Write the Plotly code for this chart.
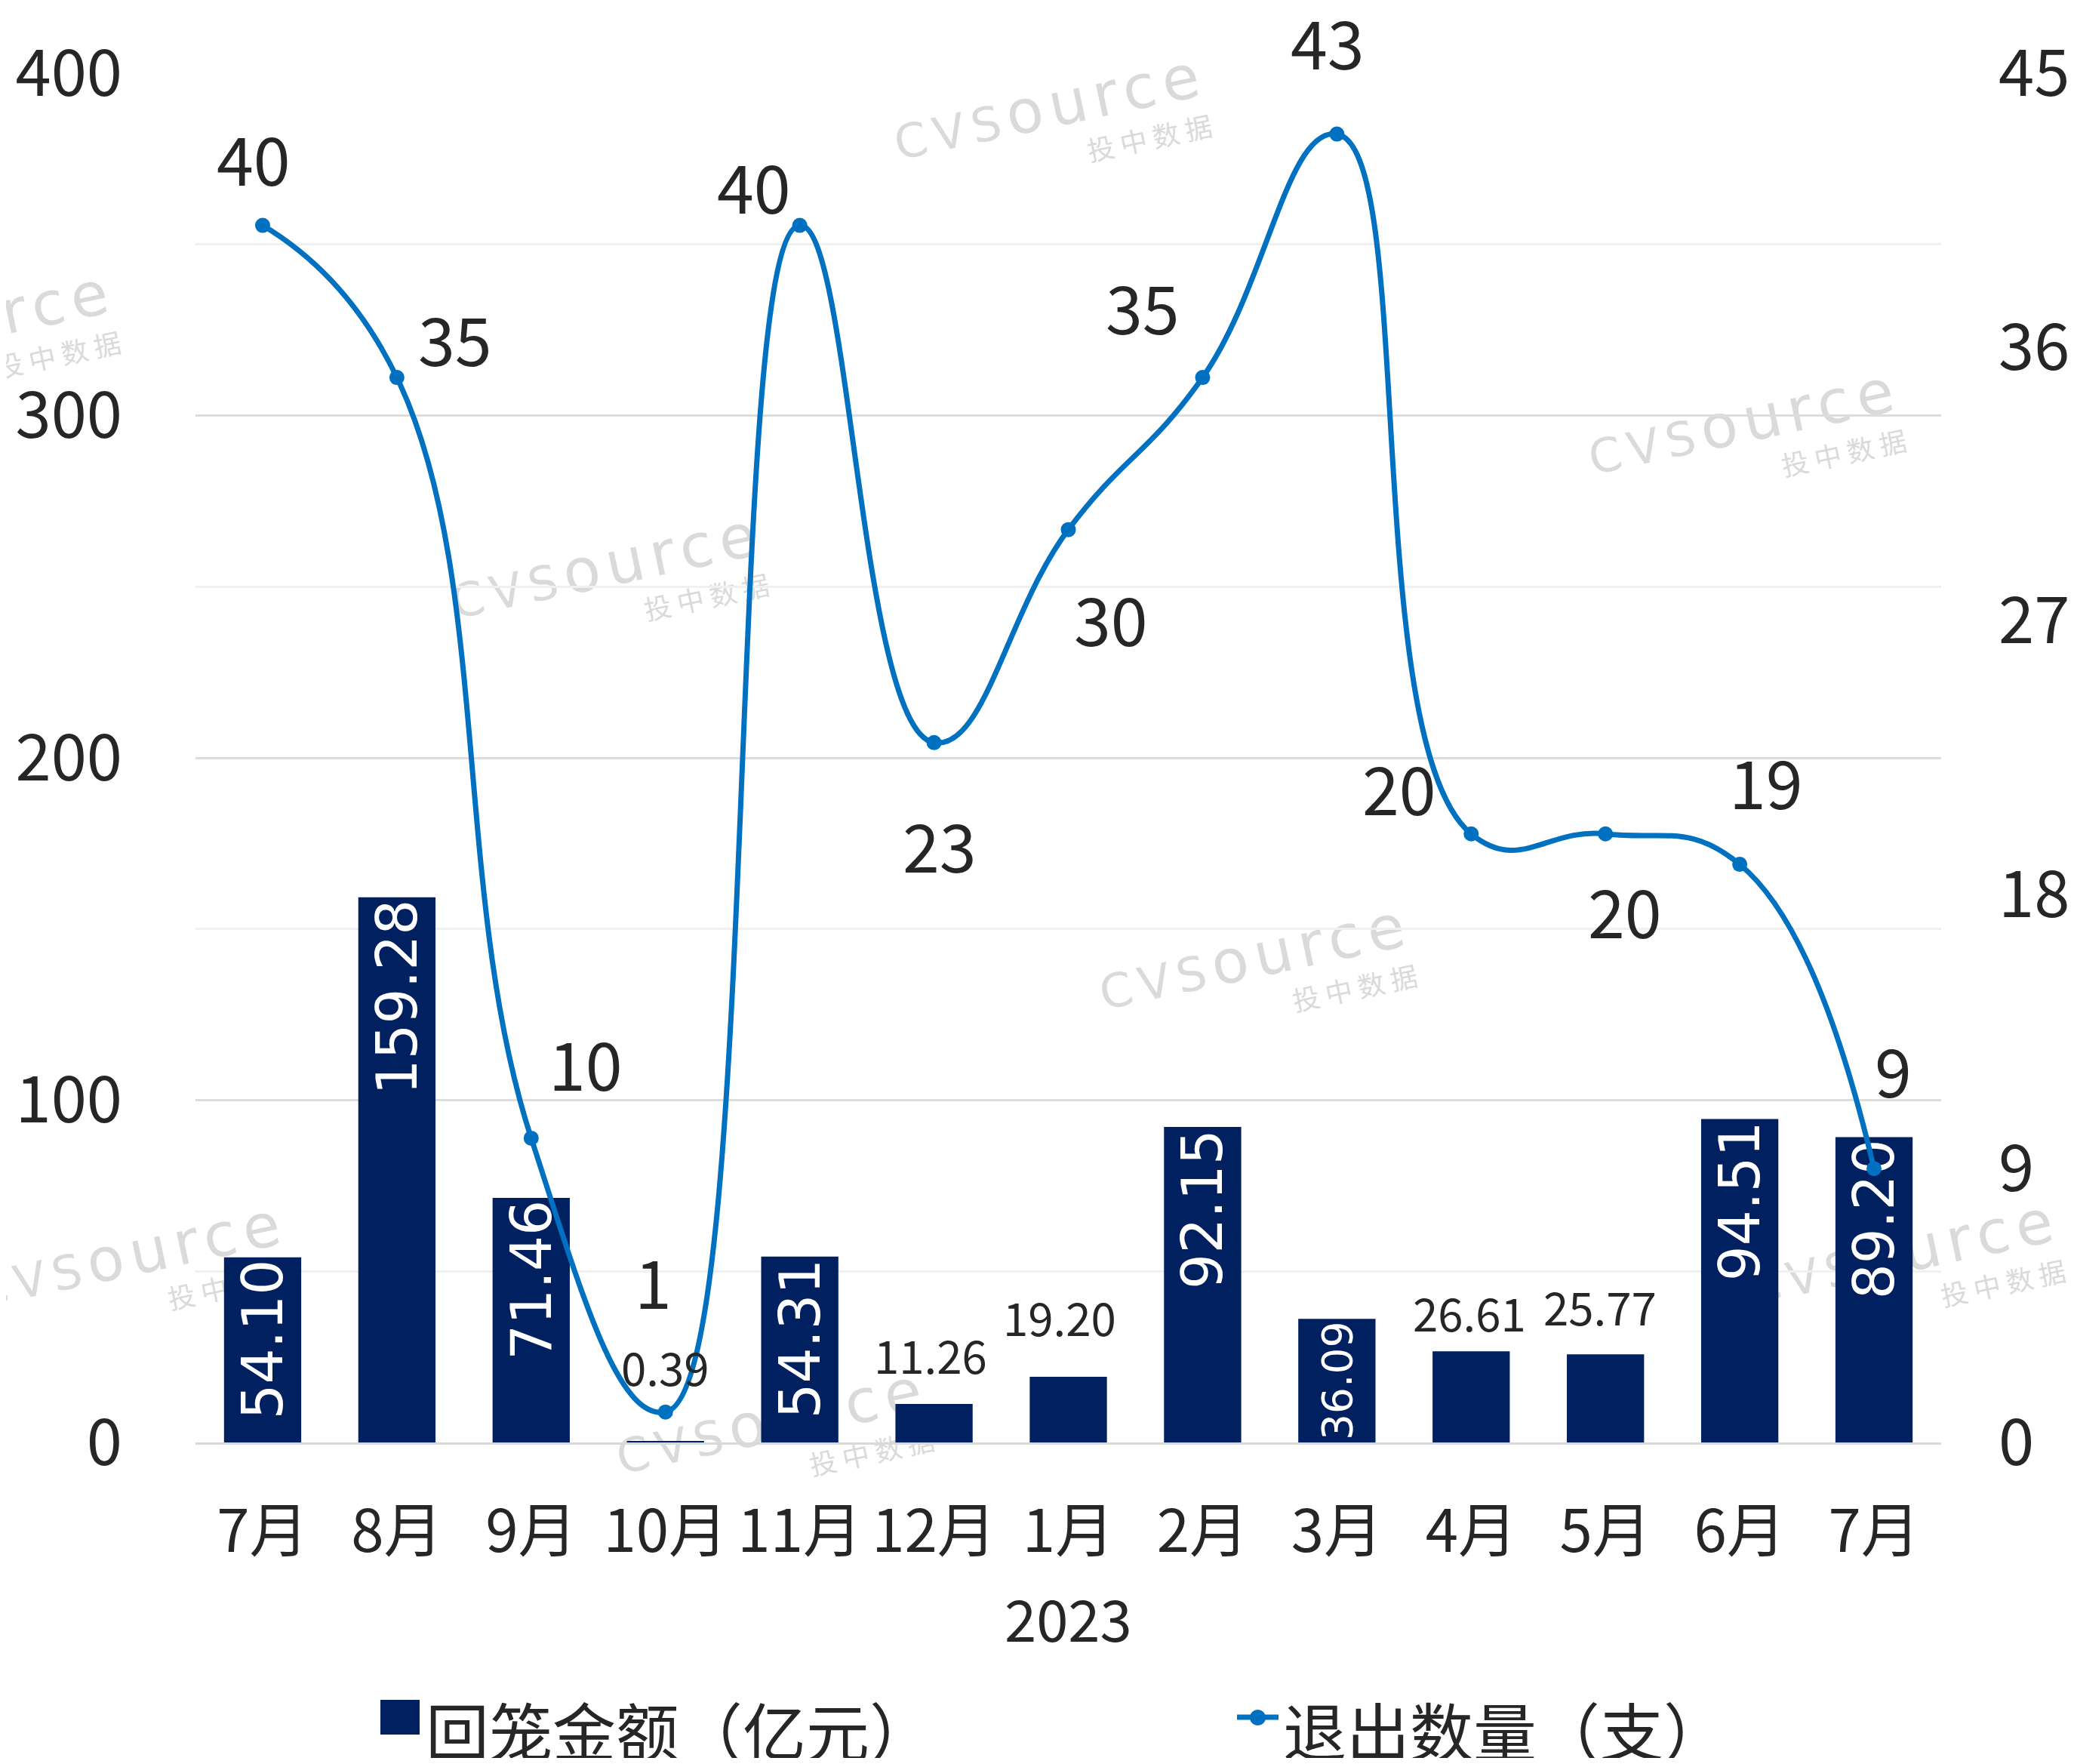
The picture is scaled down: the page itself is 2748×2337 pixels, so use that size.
import plotly.graph_objects as go

# ---------------- data ----------------
months = ["7月", "8月", "9月", "10月", "11月", "12月", "1月", "2月", "3月", "4月", "5月", "6月", "7月"]
year_label = "2023"
year_start_index = 6
amount = [54.10, 159.28, 71.46, 0.39, 54.31, 11.26, 19.20, 92.15, 36.09, 26.61, 25.77, 94.51, 89.20]
exits = [40, 35, 10, 1, 40, 23, 30, 35, 43, 20, 20, 19, 9]
left_ticks = [0, 100, 200, 300, 400]
right_ticks = [0, 9, 18, 27, 36, 45]
bar_name = "回笼金额（亿元）"
line_name = "退出数量（支）"
watermark_main = ("CVS", "ource")
watermark_sub = "投 中 数 据"

# ---------------- style / layout ----------------
OFF = 8                      # page body margin of the html output
W, H = 2732, 2321
ML, MR, MT, MB = 251, 168, 89, 418
PW, PH = W - ML - MR, H - MT - MB
FONT = "Noto Sans CJK SC, Noto Sans, sans-serif"
TEXT = "#262626"
BAR = "#002060"
LINE = "#0070C0"
WM = "#DADADA"
inside_threshold = 30


def px_x(sx):
    return (sx - OFF - ML) / PW


def px_y(sy):
    return (H - MB - (sy - OFF)) / PH


# label offsets (px) for the line's data labels: (xshift, yshift)
exit_label_shift = [(-12, 91), (77, 54), (72, 101), (-16, 175), (-61, 54), (7, -134), (56, -116),
                    (-79, 96), (-12, 124), (-95, 63), (26, -100), (35, 112), (25, 133)]
# extra lift (px) of the labels written above the short bars, in order of appearance
short_bar_label_lift = [(0, 42), (-5, 9), (-12, 23), (-2, -5), (-7, 7)]
# watermark "CVSource" centres in screen pixels; the sub text sits at a fixed offset
watermarks_px = [(1393, 153), (-53, 440), (806, 761), (2313, 570),
                 (1665, 1279), (2524, 1670), (175, 1674), (1025, 1894)]
wm_sub_offset = (131, 34)
wm_angle = -12

x = list(range(len(months)))
inside_text = [f"{v:.2f}" if v >= inside_threshold else "" for v in amount]

fig = go.Figure()
fig.add_trace(go.Bar(
    x=x, y=amount, name=bar_name, width=0.575, showlegend=False,
    marker=dict(color=BAR, line=dict(width=0)),
    text=inside_text, textposition="inside", textangle=-90, insidetextanchor="end",
    insidetextfont=dict(family="DejaVu Sans, Verdana, sans-serif", size=74, color="white"),
    hoverinfo="x+y",
))
fig.add_trace(go.Scatter(
    x=x, y=exits, name=line_name, yaxis="y2", mode="lines+markers", showlegend=False,
    line=dict(color=LINE, width=7, shape="spline", smoothing=1.3),
    marker=dict(color=LINE, size=20),
))

annotations = []
# outside labels for the short bars
k = 0
for i, v in enumerate(amount):
    if v < inside_threshold:
        dx, dy = short_bar_label_lift[k]
        k += 1
        annotations.append(dict(
            x=x[i], y=v, xref="x", yref="y", text=f"{v:.2f}", showarrow=False,
            xanchor="center", yanchor="bottom", xshift=dx, yshift=12 + dy,
            font=dict(family=FONT, size=60, color=TEXT)))
# line labels
for i, v in enumerate(exits):
    dx, dy = exit_label_shift[i]
    annotations.append(dict(
        x=x[i], y=v, xref="x", yref="y2", text=str(v), showarrow=False,
        xanchor="center", yanchor="middle", xshift=dx, yshift=dy,
        font=dict(family=FONT, size=88, color=TEXT)))
# year label
annotations.append(dict(
    x=x[year_start_index], y=px_y(2142), xref="x", yref="paper", text=year_label,
    showarrow=False, xanchor="center", yanchor="middle",
    font=dict(family=FONT, size=76, color=TEXT)))
# legend (custom, to match the large legend keys)
annotations.append(dict(
    x=px_x(562), y=px_y(2290), xref="paper", yref="paper", text=bar_name, showarrow=False,
    xanchor="left", yanchor="middle", font=dict(family=FONT, size=84, color=TEXT)))
annotations.append(dict(
    x=px_x(1698), y=px_y(2290), xref="paper", yref="paper", text=line_name, showarrow=False,
    xanchor="left", yanchor="middle", font=dict(family=FONT, size=84, color=TEXT)))

shapes = [
    dict(type="rect", xref="paper", yref="paper", x0=px_x(504), x1=px_x(556),
         y0=px_y(2298), y1=px_y(2252), fillcolor=BAR, line=dict(width=0)),
    dict(type="line", xref="paper", yref="paper", x0=px_x(1639), x1=px_x(1694),
         y0=px_y(2275), y1=px_y(2275), line=dict(color=LINE, width=7)),
    dict(type="circle", xref="paper", yref="paper", x0=px_x(1656), x1=px_x(1677),
         y0=px_y(2286), y1=px_y(2265), fillcolor=LINE, line=dict(width=0)),
]

# watermarks: invisible shapes carrying rotated text labels, drawn below the data
main_txt = (f"<span style='font-size:62px;letter-spacing:9px'>{watermark_main[0]}</span>"
            f"<span style='font-size:80px;letter-spacing:9px'>{watermark_main[1]}</span>")
for (wx, wy) in watermarks_px:
    for (cx, cy, txt, fam, size) in [
        (wx, wy, main_txt, "DejaVu Sans, Lato, sans-serif", 62),
        (wx + wm_sub_offset[0], wy + wm_sub_offset[1], watermark_sub,
         "Noto Sans CJK SC, sans-serif", 36),
    ]:
        shapes.append(dict(
            type="rect", xref="paper", yref="paper", layer="below",
            x0=px_x(cx - 1), x1=px_x(cx + 1), y0=px_y(cy + 1), y1=px_y(cy - 1),
            fillcolor="rgba(0,0,0,0)", line=dict(width=0),
            label=dict(text=txt, textangle=wm_angle, textposition="middle center",
                       xanchor="center", yanchor="middle",
                       font=dict(family=fam, size=size, color=WM))))

fig.update_layout(
    width=W, height=H,
    margin=dict(l=ML, r=MR, t=MT, b=MB, autoexpand=False),
    paper_bgcolor="white", plot_bgcolor="rgba(0,0,0,0)",
    font=dict(family=FONT, color=TEXT),
    showlegend=False,
    xaxis=dict(range=[-0.5, len(months) - 0.5], tickmode="array", tickvals=x, ticktext=months,
               tickfont=dict(size=78, color=TEXT), showgrid=False, showline=True,
               linecolor="#D9D9D9", linewidth=3, ticks="", ticklabelstandoff=48, zeroline=False),
    yaxis=dict(range=[left_ticks[0], left_ticks[-1]], tick0=left_ticks[0],
               dtick=left_ticks[1] - left_ticks[0],
               tickfont=dict(size=85, color=TEXT), showgrid=True, gridcolor="#DDDDDD", gridwidth=3,
               minor=dict(dtick=(left_ticks[1] - left_ticks[0]) / 2, showgrid=True,
                          gridcolor="#F0F0F0", gridwidth=3),
               zeroline=False, showline=False, ticks="", ticklabelstandoff=96),
    yaxis2=dict(range=[right_ticks[0], right_ticks[-1]], tick0=right_ticks[0],
                dtick=right_ticks[1] - right_ticks[0], overlaying="y", side="right",
                showgrid=False, zeroline=False, showline=False, ticks="",
                tickfont=dict(size=85, color=TEXT), ticklabelstandoff=75),
    annotations=annotations,
    shapes=shapes,
)

fig.write_html("out.html")
